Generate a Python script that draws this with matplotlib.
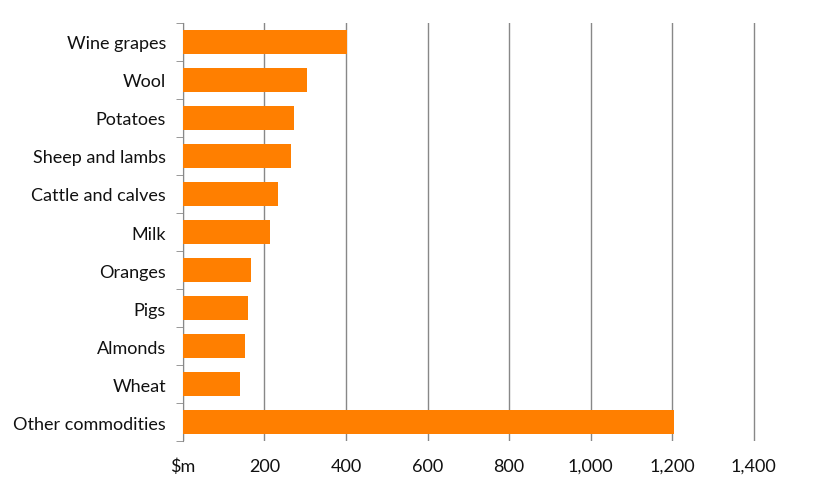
import matplotlib
matplotlib.use("Agg")
import matplotlib.pyplot as plt

# gross value by commodity, $m
commodities = ["Wine grapes", "Wool", "Potatoes", "Sheep and lambs", "Cattle and calves",
               "Milk", "Oranges", "Pigs", "Almonds", "Wheat", "Other commodities"]
values = [403, 305, 273, 265, 233, 214, 168, 160, 152, 140, 1204]
xticks = [0, 200, 400, 600, 800, 1000, 1200, 1400]
xlabels = ["$m", "200", "400", "600", "800", "1,000", "1,200", "1,400"]

plt.rcParams['font.family'] = ['Lato', 'DejaVu Sans']

fig = plt.figure(figsize=(8.15, 4.89), dpi=100)
ax = fig.add_axes([0.2242, 0.096, 0.927 - 0.2242, 0.951 - 0.096])

pos = list(range(len(commodities)))[::-1]
ax.barh(pos, values, height=0.64, color="#FF7F00", zorder=3)

ax.set_xlim(0, 1404)
ax.set_ylim(-0.5, len(commodities) - 0.5)
ax.set_xticks(xticks, xlabels)
ax.set_yticks(pos, commodities)
ax.set_yticks([p - 0.5 for p in range(len(commodities) + 1)], minor=True)

ax.xaxis.grid(True, color="#888888", linewidth=1, zorder=0)
for s in ["top", "right", "bottom"]:
    ax.spines[s].set_visible(False)
ax.spines["left"].set_color("#888888")

ax.tick_params(axis="y", which="major", length=0, pad=12, labelsize=13, labelcolor="#111111")
ax.tick_params(axis="y", which="minor", length=5, color="#888888", direction="out")
ax.tick_params(axis="x", length=0, pad=12, labelsize=13, labelcolor="#111111")

plt.savefig("out.png")
